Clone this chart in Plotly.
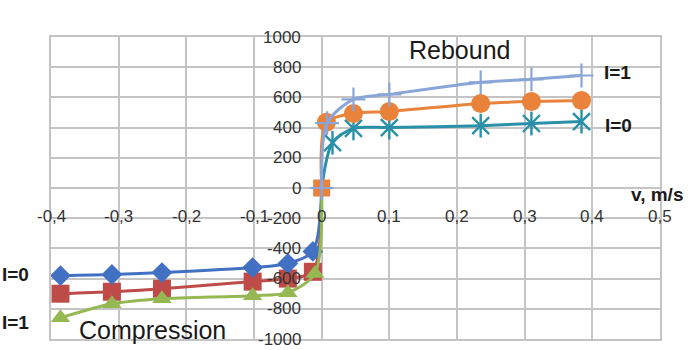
import plotly.graph_objects as go

# Rebound branch (v > 0)
v_reb_hi = [0.0, 0.008, 0.047, 0.100, 0.235, 0.310, 0.384]
f_reb_hi = [0, 430, 587, 620, 700, 720, 745]          # I=1
v_reb_mid = [0.0, 0.007, 0.047, 0.100, 0.235, 0.310, 0.384]
f_reb_mid = [0, 435, 493, 507, 560, 573, 580]          # middle curve
v_reb_lo = [0.0, 0.016, 0.047, 0.100, 0.235, 0.310, 0.384]
f_reb_lo = [0, 300, 395, 400, 413, 427, 440]           # I=0

# Compression branch (v < 0)
v_cmp = [-0.386, -0.310, -0.236, -0.102, -0.050, -0.013, 0.0]
f_cmp_lo = [-580, -573, -560, -527, -500, -420, 0]     # I=0
f_cmp_mid = [-700, -687, -667, -620, -600, -555, 0]    # middle curve
v_cmp_hi = [-0.386, -0.310, -0.236, -0.102, -0.050, -0.010, 0.0]
f_cmp_hi = [-860, -767, -733, -713, -693, -567, 0]     # I=1

x_ticks = [-0.4, -0.3, -0.2, -0.1, 0.0, 0.1, 0.2, 0.3, 0.4, 0.5]
x_tick_text = ["-0,4", "-0,3", "-0,2", "-0,1", "0", "0,1", "0,2", "0,3", "0,4", "0,5"]
y_ticks = [1000, 800, 600, 400, 200, 0, -200, -400, -600, -800, -1000]
y_tick_text = [str(t) for t in y_ticks]

FONT = "Liberation Sans, Arial, sans-serif"
GRID = "#c4c4c4"
LW = 3

fig = go.Figure()


def curve(x, y, color, symbol, msize):
    # the shared origin point carries no marker of its own
    sizes = [0 if xv == 0 else msize for xv in x]
    fig.add_trace(go.Scatter(
        x=x, y=y, mode="lines+markers",
        line=dict(color=color, width=LW, shape="spline", smoothing=0.8),
        marker=dict(symbol=symbol, size=sizes, color=color, opacity=1,
                    line=dict(width=0)),
        showlegend=False, hoverinfo="skip"))


# compression curves
curve(v_cmp, f_cmp_mid, "#be4b48", "square", 18)
curve(v_cmp, f_cmp_lo, "#4270c2", "diamond", 16)
curve(v_cmp_hi, f_cmp_hi, "#95b853", "triangle-up", 17)

# rebound curves
lo_color = "#2a90a8"
fig.add_trace(go.Scatter(
    x=v_reb_lo, y=f_reb_lo, mode="lines",
    line=dict(color=lo_color, width=LW, shape="spline", smoothing=0.8),
    showlegend=False, hoverinfo="skip"))
for sym in ("x-thin-open", "line-ns-open"):
    fig.add_trace(go.Scatter(
        x=v_reb_lo[1:], y=f_reb_lo[1:], mode="markers",
        marker=dict(symbol=sym, size=17, color=lo_color,
                    line=dict(color=lo_color, width=2.4)),
        showlegend=False, hoverinfo="skip"))

mid_color = "#e9823a"
mid_symbols = ["square"] + ["circle"] * (len(v_reb_mid) - 1)
fig.add_trace(go.Scatter(
    x=v_reb_mid, y=f_reb_mid, mode="lines+markers",
    line=dict(color=mid_color, width=LW, shape="spline", smoothing=0.8),
    marker=dict(symbol=mid_symbols, size=[17] + [19] * (len(v_reb_mid) - 1),
                color=mid_color, opacity=1, line=dict(width=0)),
    showlegend=False, hoverinfo="skip"))

hi_color = "#8aa5d8"
fig.add_trace(go.Scatter(
    x=v_reb_hi, y=f_reb_hi, mode="lines+markers",
    line=dict(color=hi_color, width=LW, shape="spline", smoothing=0.8),
    marker=dict(symbol="cross-thin-open", size=17, color=hi_color,
                line=dict(color=hi_color, width=2.2)),
    showlegend=False, hoverinfo="skip"))

# tick labels sitting on the crossing axes
for xv, txt in zip(x_ticks, x_tick_text):
    fig.add_annotation(x=xv, y=0, text=txt, showarrow=False, yshift=-28,
                       xanchor="center", yanchor="middle",
                       font=dict(family=FONT, size=17, color="#333333"))
for yv, txt in zip(y_ticks, y_tick_text):
    fig.add_annotation(x=0, y=yv, text=txt, showarrow=False, xshift=-19,
                       xanchor="right", yanchor="middle",
                       font=dict(family=FONT, size=17, color="#333333"))

# axis titles and upper-right curve labels (data coordinates)
labels = [
    (0.008, 1126, "<b>F, kH</b>", "center", 19),
    (0.496, -46, "<b>v, m/s</b>", "center", 19),
    (0.204, 914, "Rebound", "center", 25),
    (0.414, 768, "<b>I=1</b>", "left", 19),
    (0.416, 411, "<b>I=0</b>", "left", 19),
]
for xv, yv, txt, anchor, size in labels:
    fig.add_annotation(x=xv, y=yv, text=txt, showarrow=False,
                       xanchor=anchor, yanchor="middle",
                       font=dict(family=FONT, size=size, color="#1a1a1a"))

# labels left of the plotting area (paper coordinates)
paper_labels = [
    (-0.084, 0.212, "<b>I=0</b>", "left", 19),
    (-0.084, 0.056, "<b>I=1</b>", "left", 19),
    (0.166, 0.03, "Compression", "center", 25),
]
for xv, yv, txt, anchor, size in paper_labels:
    fig.add_annotation(x=xv, y=yv, xref="paper", yref="paper", text=txt,
                       showarrow=False, xanchor=anchor, yanchor="middle",
                       font=dict(family=FONT, size=size, color="#1a1a1a"))

axis_style = dict(showticklabels=False, showgrid=True, gridcolor=GRID,
                  gridwidth=1.5, zeroline=True, zerolinecolor=GRID,
                  zerolinewidth=1.5, showline=True, mirror=True,
                  linecolor=GRID, linewidth=1.5, ticks="")

fig.update_layout(
    width=690, height=350,
    margin=dict(l=51, r=30, t=37, b=11),
    paper_bgcolor="white", plot_bgcolor="white",
    xaxis=dict(range=[-0.4, 0.5], tickvals=x_ticks, **axis_style),
    yaxis=dict(range=[-1000, 1000], tickvals=y_ticks, **axis_style),
)

fig.write_html("out.html")
